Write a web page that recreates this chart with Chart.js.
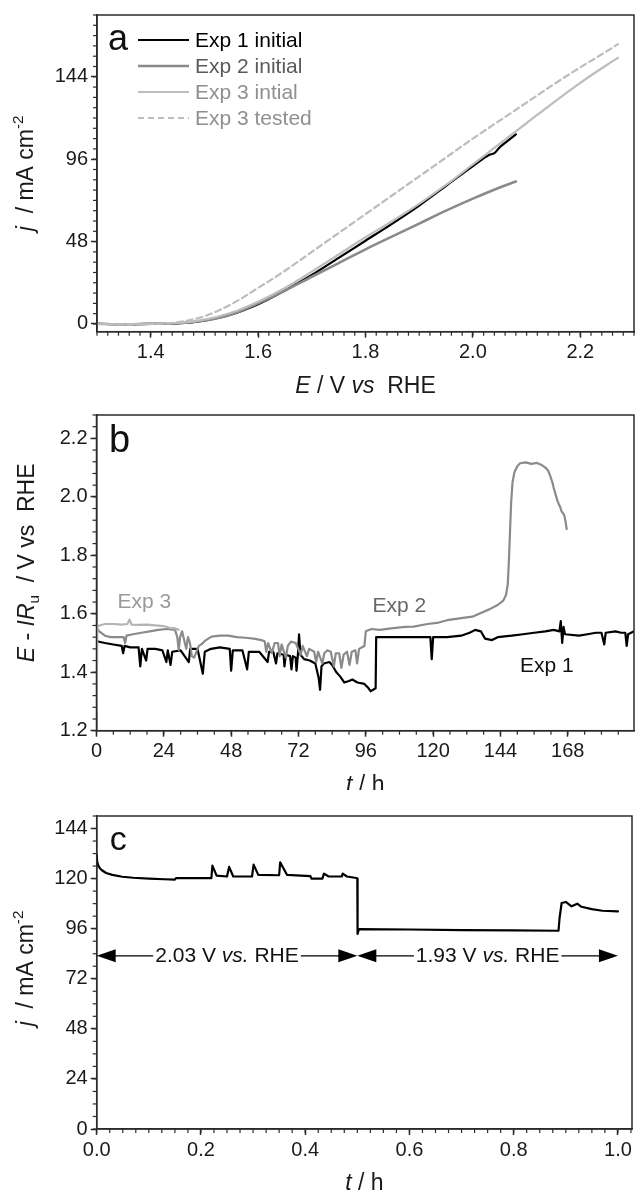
<!DOCTYPE html>
<html>
<head>
<meta charset="utf-8">
<script src="https://cdn.jsdelivr.net/npm/chart.js@4.4.1/dist/chart.umd.min.js"></script>
<style>
  html, body { margin: 0; padding: 0; background: #fff; }
  #wrap { position: relative; width: 635px; height: 1193px; overflow: hidden; background: #fff; }
  .panel { position: absolute; left: 0; width: 635px; }
  canvas { display: block; }
</style>
</head>
<body>
<div id="wrap">
  <div class="panel" style="top:0"><canvas id="chartA" width="635" height="395"></canvas></div>
  <div class="panel" style="top:395px"><canvas id="chartB" width="635" height="395"></canvas></div>
  <div class="panel" style="top:790px"><canvas id="chartC" width="635" height="403"></canvas></div>
</div>
<script>
// ---------- (a) polarisation curves: E / V vs RHE, j / mA cm-2 ----------
const exp1InitialE = [1.30, 1.35, 1.40, 1.45, 1.50, 1.55, 1.60, 1.65, 1.70, 1.75, 1.80, 1.85, 1.90, 1.95, 2.00, 2.03, 2.04, 2.05, 2.06, 2.08];
const exp1InitialJ = [0.2, -0.3, 0.1, 0.4, 2.0, 5.5, 11.5, 19.5, 28.5, 38.5, 48.5, 58.5, 69, 80.5, 92, 98.5, 99.5, 103, 105.5, 110.5];
const exp2InitialE = [1.30, 1.35, 1.40, 1.45, 1.50, 1.55, 1.60, 1.65, 1.70, 1.75, 1.80, 1.85, 1.90, 1.95, 2.00, 2.05, 2.08];
const exp2InitialJ = [0.1, -0.2, 0.2, 0.4, 2.0, 5.5, 12, 19.5, 27.5, 35.5, 43.5, 51, 58.5, 66, 73, 79.5, 83];
const exp3InitialE = [1.30, 1.35, 1.40, 1.45, 1.50, 1.55, 1.60, 1.65, 1.70, 1.75, 1.80, 1.85, 1.90, 1.95, 2.00, 2.05, 2.10, 2.15, 2.20, 2.25, 2.27];
const exp3InitialJ = [0.3, -0.2, 0.2, 0.6, 2.5, 6.5, 13, 21, 30.5, 40.5, 50.5, 60, 70, 81, 93, 105, 117, 129, 140.5, 151, 155];
const exp3TestedE  = [1.30, 1.35, 1.40, 1.45, 1.50, 1.55, 1.60, 1.65, 1.70, 1.75, 1.80, 1.85, 1.90, 1.95, 2.00, 2.05, 2.10, 2.15, 2.20, 2.25, 2.27];
const exp3TestedJ  = [0.0, -0.4, 0.0, 1.0, 4.5, 11.5, 21, 31, 42, 53, 64, 75, 86, 97, 108, 118.5, 129, 139.5, 149.5, 159, 163];
const lsvLabels = ['Exp 1 initial', 'Exp 2 initial', 'Exp 3 intial', 'Exp 3 tested'];
const lsvTicksE = [1.4, 1.6, 1.8, 2.0, 2.2];
const lsvTicksJ = [0, 48, 96, 144];

// ---------- (b) stability runs: t / h, E - IRu / V vs RHE ----------
const exp1T = [0, 0.5, 3, 6, 9, 9.5, 10, 12, 15, 15.6, 16.2, 17.7, 18.2, 21, 23.5, 24.9, 25.4, 26.4, 27, 30, 32.9, 33.4, 36, 37.9, 38.6, 40.8, 44, 47.5, 48, 48.6, 52, 53.7, 54.3, 58, 61, 61.5, 63, 64, 64.5, 66.7, 67, 67.5, 69, 69.5, 70, 71, 71.3, 71.8, 72.2, 72.7, 74, 76, 78, 79.2, 79.7, 80.2, 81, 83, 84, 85.5, 86.9, 88.3, 90, 91.2, 93, 95.5, 97, 97.7, 99.5, 99.7, 105, 110, 115, 119, 119.5, 120, 125, 130, 133, 135, 137, 138.5, 141, 143, 148, 152, 156, 160, 163, 165, 165.5, 166, 166.5, 167, 172, 175, 178, 180, 181, 181.5, 185, 187, 188.5, 189, 189.5, 191.6];
const exp1V = [1.51, 1.505, 1.50, 1.495, 1.49, 1.465, 1.49, 1.485, 1.485, 1.42, 1.48, 1.44, 1.48, 1.48, 1.475, 1.435, 1.475, 1.425, 1.47, 1.475, 1.435, 1.48, 1.48, 1.395, 1.47, 1.48, 1.485, 1.48, 1.405, 1.475, 1.475, 1.41, 1.47, 1.47, 1.435, 1.47, 1.47, 1.43, 1.465, 1.46, 1.42, 1.46, 1.455, 1.41, 1.455, 1.45, 1.405, 1.46, 1.53, 1.46, 1.445, 1.44, 1.43, 1.38, 1.34, 1.42, 1.43, 1.435, 1.425, 1.40, 1.385, 1.365, 1.37, 1.375, 1.365, 1.36, 1.345, 1.335, 1.345, 1.52, 1.52, 1.52, 1.52, 1.52, 1.445, 1.52, 1.52, 1.525, 1.535, 1.545, 1.54, 1.515, 1.51, 1.52, 1.525, 1.53, 1.535, 1.54, 1.545, 1.54, 1.575, 1.50, 1.555, 1.53, 1.525, 1.53, 1.535, 1.535, 1.495, 1.535, 1.54, 1.535, 1.535, 1.49, 1.53, 1.54];
const exp2T = [0, 1, 3, 5, 8, 9.7, 10.2, 10.7, 13, 16, 19, 22, 25, 28, 28.8, 29.3, 29.8, 30.5, 31.5, 32, 32.6, 33.3, 34, 34.8, 35.6, 36.5, 37.6, 39, 41, 44, 47, 50, 53, 56, 58.8, 60, 60.5, 61.2, 62.5, 63.5, 64.7, 65.3, 66, 67.5, 68.2, 69.3, 71, 72.8, 73.5, 75, 75.8, 77.6, 78.3, 79, 80.5, 81.2, 82.3, 83.5, 84.6, 85.3, 86.5, 87.3, 88.1, 89.3, 90.2, 91, 92.3, 92.9, 93.6, 95.5, 96, 98, 101, 105, 110, 113, 118, 122, 125, 130, 134, 137, 140, 143, 145, 146, 146.6, 147, 147.4, 147.8, 148.3, 149, 150, 151, 153, 155, 157, 158.5, 160, 161, 161.8, 162.5, 163, 163.6, 164.2, 164.8, 165.3, 165.8, 166.3, 166.8, 167.2, 167.6];
const exp2V = [1.55, 1.54, 1.525, 1.52, 1.52, 1.52, 1.50, 1.525, 1.53, 1.535, 1.54, 1.545, 1.548, 1.545, 1.52, 1.476, 1.52, 1.54, 1.50, 1.48, 1.52, 1.50, 1.455, 1.45, 1.47, 1.49, 1.497, 1.51, 1.522, 1.525, 1.525, 1.52, 1.518, 1.515, 1.51, 1.505, 1.47, 1.50, 1.465, 1.50, 1.50, 1.455, 1.495, 1.45, 1.49, 1.505, 1.50, 1.46, 1.49, 1.455, 1.48, 1.47, 1.435, 1.47, 1.43, 1.465, 1.475, 1.47, 1.42, 1.465, 1.465, 1.415, 1.46, 1.47, 1.425, 1.47, 1.475, 1.43, 1.48, 1.49, 1.54, 1.548, 1.545, 1.55, 1.555, 1.556, 1.565, 1.57, 1.578, 1.585, 1.59, 1.603, 1.615, 1.63, 1.645, 1.665, 1.70, 1.78, 1.88, 1.98, 2.05, 2.085, 2.105, 2.115, 2.118, 2.113, 2.116, 2.11, 2.10, 2.09, 2.07, 2.05, 2.03, 2.01, 1.99, 1.975, 1.965, 1.95, 1.945, 1.935, 1.915, 1.89];
const exp3T = [0, 0.3, 1, 3, 6, 9, 11, 11.8, 12.5, 15, 18, 21, 24, 26, 28, 29.3];
const exp3V = [1.27, 1.555, 1.56, 1.565, 1.565, 1.563, 1.565, 1.58, 1.563, 1.562, 1.563, 1.56, 1.558, 1.552, 1.55, 1.545];
const runTicksT = [0, 24, 48, 72, 96, 120, 144, 168];
const runTicksV = [1.2, 1.4, 1.6, 1.8, 2.0, 2.2];

// ---------- (c) chronoamperometry: t / h, j / mA cm-2 ----------
const chronoT = [0, 0.001, 0.003, 0.006, 0.01, 0.018, 0.03, 0.049, 0.07, 0.1, 0.13, 0.15, 0.152, 0.22, 0.222, 0.23, 0.25, 0.254, 0.262, 0.298, 0.301, 0.31, 0.35, 0.352, 0.365, 0.41, 0.412, 0.433, 0.436, 0.445, 0.47, 0.472, 0.48, 0.498, 0.5, 0.5005, 0.503, 0.6, 0.7, 0.8, 0.886, 0.888, 0.892, 0.9, 0.911, 0.922, 0.93, 0.95, 0.97, 1.0];
const chronoJ = [131.5, 128, 126.3, 125, 124, 122.7, 121.8, 120.9, 120.4, 120, 119.7, 119.5, 120.2, 120.2, 126.2, 121.4, 121, 125.6, 121, 121, 126.7, 121.8, 121.6, 127.8, 121.8, 121.2, 120, 120, 122.4, 121, 121, 122.4, 121, 120.3, 120, 93.5, 95.8, 95.6, 95.3, 95.2, 95, 101, 108.3, 108.8, 106.7, 108, 106.5, 105.4, 104.6, 104.3];
const holdStart = [0, 0.5];
const holdEnd = [0.5, 1.0];
const holdVoltage = ['2.03', '1.93'];
const chronoTicksT = [0, 0.2, 0.4, 0.6, 0.8, 1.0];
const chronoTicksJ = [0, 24, 48, 72, 96, 120, 144];

// ---------- shared drawing helpers ----------
const FONT = '"Liberation Sans", Arial, Helvetica, sans-serif';
const AXIS = '#2b2b2b';

function pts(xs, ys) { return xs.map((x, i) => ({ x: x, y: ys[i] })); }

// draws a run of text pieces (italic / sub / superscript) centred at x,y
function drawRich(ctx, parts, x, y, size, color, rotate, align) {
  ctx.save();
  ctx.translate(x, y);
  if (rotate) ctx.rotate(-Math.PI / 2);
  let total = 0;
  const m = parts.map(p => {
    const s = (p.sub || p.sup) ? size * 0.66 : size;
    const f = (p.italic ? 'italic ' : '') + s + 'px ' + FONT;
    ctx.font = f;
    const w = ctx.measureText(p.t).width;
    total += w;
    return { f, w, dy: p.sup ? -size * 0.36 : (p.sub ? size * 0.3 : 0) };
  });
  let cx = align === 'left' ? 0 : -total / 2;
  ctx.textBaseline = 'middle';
  ctx.textAlign = 'left';
  ctx.fillStyle = color;
  parts.forEach((p, i) => { ctx.font = m[i].f; ctx.fillText(p.t, cx, m[i].dy); cx += m[i].w; });
  ctx.restore();
  return total;
}

// frame, minor ticks, axis titles and panel letter
const decor = {
  id: 'decor',
  afterDraw(chart, args, o) {
    const ctx = chart.ctx, a = chart.chartArea;
    ctx.save();
    ctx.strokeStyle = AXIS;
    ctx.lineWidth = 1.5;
    ctx.strokeRect(a.left, a.top, a.right - a.left, a.bottom - a.top);
    ctx.lineWidth = 1.2;
    for (const id of ['x', 'y']) {
      const s = chart.scales[id], step = o.minor[id];
      const i0 = Math.ceil(s.min / step - 1e-6), i1 = Math.floor(s.max / step + 1e-6);
      for (let i = i0; i <= i1; i++) {
        const p = s.getPixelForValue(i * step);
        ctx.beginPath();
        if (id === 'x') { ctx.moveTo(p, a.bottom); ctx.lineTo(p, a.bottom + 4); }
        else { ctx.moveTo(a.left, p); ctx.lineTo(a.left - 4, p); }
        ctx.stroke();
      }
    }
    ctx.restore();
    drawRich(ctx, o.xTitle, (a.left + a.right) / 2, a.bottom + 55, 23, '#1a1a1a', false);
    drawRich(ctx, o.yTitle, o.yTitleX, (a.top + a.bottom) / 2 + o.yTitleDy, 23, '#1a1a1a', true);
    ctx.save();
    ctx.font = o.letterSize + 'px ' + FONT;
    ctx.fillStyle = '#111';
    ctx.textBaseline = 'alphabetic';
    ctx.fillText(o.letter, a.left + o.letterPos[0], a.top + o.letterPos[1]);
    ctx.restore();
  }
};

function axisBase(min, max, ticks, fmt, size) {
  return {
    type: 'linear', min: min, max: max,
    afterBuildTicks: s => { s.ticks = ticks.map(v => ({ value: v })); },
    afterFit: s => { if (s.isHorizontal()) s.height = size; else s.width = size; },
    grid: { drawOnChartArea: false, drawTicks: true, tickLength: 6, tickWidth: 1.5, tickColor: AXIS },
    border: { display: true, color: AXIS, width: 1.5 },
    ticks: { autoSkip: false, maxRotation: 0, padding: 3, color: '#1a1a1a',
             font: { family: FONT, size: 20 }, callback: fmt }
  };
}

const baseOptions = (padTop, padRight) => ({
  responsive: false, animation: false, devicePixelRatio: 1,
  layout: { padding: { top: padTop, right: padRight, left: 0, bottom: 0 } },
  elements: { point: { radius: 0 }, line: { borderJoinStyle: 'round', borderCapStyle: 'round' } },
  plugins: { legend: { display: false }, tooltip: { enabled: false } }
});

// ---------- chart a ----------
const lsvColours = ['#000000', '#8a8a8a', '#bdbdbd', '#bdbdbd'];
const lsvTextColours = ['#000000', '#5a5a5a', '#8f8f8f', '#8f8f8f'];
const lsvLegend = {
  id: 'lsvLegend',
  afterDraw(chart) {
    const ctx = chart.ctx;
    // datasets are stacked black-on-top, so walk them back in legend order
    const sets = chart.data.datasets.slice().reverse();
    sets.forEach((d, i) => {
      const y = 40 + i * 26;
      ctx.save();
      ctx.strokeStyle = d.borderColor;
      ctx.lineWidth = d.borderWidth;
      ctx.setLineDash(d.borderDash || []);
      ctx.beginPath(); ctx.moveTo(138, y); ctx.lineTo(189, y); ctx.stroke();
      ctx.setLineDash([]);
      ctx.font = '21px ' + FONT;
      ctx.fillStyle = lsvTextColours[i];
      ctx.textBaseline = 'middle';
      ctx.fillText(d.label, 195, y + 1);
      ctx.restore();
    });
  }
};
const optA = baseOptions(14, 1);
optA.scales = {
  x: axisBase(1.3, 2.3, lsvTicksE, v => v.toFixed(1), 63.3),
  y: axisBase(-4.5, 180, lsvTicksJ, v => String(v), 97)
};
optA.plugins.decor = {
  minor: { x: 0.02, y: 6 },
  xTitle: [{ t: 'E', italic: true }, { t: ' / V ' }, { t: 'vs', italic: true }, { t: '  RHE' }],
  yTitle: [{ t: 'j', italic: true }, { t: '  / mA cm' }, { t: '-2', sup: true }],
  yTitleX: 27, yTitleDy: 0,
  letter: 'a', letterSize: 36, letterPos: [11, 35]
};
new Chart(document.getElementById('chartA'), {
  type: 'line',
  data: { datasets: [
    { label: lsvLabels[3], data: pts(exp3TestedE, exp3TestedJ), borderColor: lsvColours[3], borderWidth: 2.2, borderDash: [6, 4], cubicInterpolationMode: 'monotone' },
    { label: lsvLabels[2], data: pts(exp3InitialE, exp3InitialJ), borderColor: lsvColours[2], borderWidth: 2.2, cubicInterpolationMode: 'monotone' },
    { label: lsvLabels[1], data: pts(exp2InitialE, exp2InitialJ), borderColor: lsvColours[1], borderWidth: 2.6, cubicInterpolationMode: 'monotone' },
    { label: lsvLabels[0], data: pts(exp1InitialE, exp1InitialJ), borderColor: lsvColours[0], borderWidth: 2.2, cubicInterpolationMode: 'monotone' }
  ] },
  options: optA,
  plugins: [decor, lsvLegend]
});

// ---------- chart b ----------
const runLabels = [
  { text: 'Exp 3', t: 7.5, v: 1.641, colour: '#9a9a9a' },
  { text: 'Exp 2', t: 98.4, v: 1.627, colour: '#666666' },
  { text: 'Exp 1', t: 151, v: 1.422, colour: '#111111' }
];
const optB = baseOptions(20, 1);
optB.scales = {
  x: axisBase(0, 191.6, runTicksT, v => String(v), 59.3),
  y: axisBase(1.2, 2.28, runTicksV, v => v.toFixed(1), 96.5)
};
optB.plugins.decor = {
  minor: { x: 6, y: 0.04 },
  xTitle: [{ t: 't', italic: true }, { t: ' / h' }],
  yTitle: [{ t: 'E', italic: true }, { t: ' - ' }, { t: 'IR', italic: true }, { t: 'u', sub: true }, { t: '  / V vs  RHE' }],
  yTitleX: 28, yTitleDy: -10,
  letter: 'b', letterSize: 38, letterPos: [12.5, 37]
};
new Chart(document.getElementById('chartB'), {
  type: 'line',
  data: { datasets: [
    { label: 'Exp 3', data: pts(exp3T, exp3V), borderColor: '#b4b4b4', borderWidth: 2.2 },
    { label: 'Exp 2', data: pts(exp2T, exp2V), borderColor: '#8a8a8a', borderWidth: 2.2 },
    { label: 'Exp 1', data: pts(exp1T, exp1V), borderColor: '#000000', borderWidth: 2.2 }
  ] },
  options: optB,
  plugins: [decor, {
    id: 'runLabels',
    afterDraw(chart) {
      const ctx = chart.ctx, sx = chart.scales.x, sy = chart.scales.y;
      ctx.save();
      ctx.font = '21px ' + FONT;
      ctx.textBaseline = 'middle';
      runLabels.forEach(l => {
        ctx.fillStyle = l.colour;
        ctx.fillText(l.text, sx.getPixelForValue(l.t), sy.getPixelForValue(l.v));
      });
      ctx.restore();
    }
  }]
});

// ---------- chart c ----------
const optC = baseOptions(26, 3);
optC.scales = {
  x: axisBase(0, 1.027, chronoTicksT, v => v.toFixed(1), 64),
  y: axisBase(0, 150, chronoTicksJ, v => String(v), 96.7)
};
optC.plugins.decor = {
  minor: { x: 0.025, y: 6 },
  xTitle: [{ t: 't', italic: true }, { t: ' / h' }],
  yTitle: [{ t: 'j', italic: true }, { t: '  / mA cm' }, { t: '-2', sup: true }],
  yTitleX: 27, yTitleDy: -4,
  letter: 'c', letterSize: 34, letterPos: [13, 34]
};
const holdLevel = 83;
new Chart(document.getElementById('chartC'), {
  type: 'line',
  data: { datasets: [
    { label: 'j', data: pts(chronoT, chronoJ), borderColor: '#000000', borderWidth: 2.2 }
  ] },
  options: optC,
  plugins: [decor, {
    id: 'holdArrows',
    afterDraw(chart) {
      const ctx = chart.ctx, sx = chart.scales.x, sy = chart.scales.y;
      const y = sy.getPixelForValue(holdLevel);
      const head = (tipX, dir) => {
        ctx.beginPath();
        ctx.moveTo(tipX, y);
        ctx.lineTo(tipX - dir * 19, y - 6.5);
        ctx.lineTo(tipX - dir * 19, y + 6.5);
        ctx.closePath();
        ctx.fill();
      };
      ctx.save();
      ctx.fillStyle = '#000';
      ctx.strokeStyle = '#000';
      ctx.lineWidth = 1.2;
      holdStart.forEach((t0, i) => {
        const x0 = sx.getPixelForValue(t0), x1 = sx.getPixelForValue(holdEnd[i]);
        const mid = (x0 + x1) / 2;
        const w = drawRich(ctx, [{ t: holdVoltage[i] + ' V ' }, { t: 'vs.', italic: true }, { t: ' RHE' }], mid, y, 21, '#111', false);
        ctx.beginPath();
        ctx.moveTo(x0 + 10, y); ctx.lineTo(mid - w / 2 - 2, y);
        ctx.moveTo(mid + w / 2 + 2, y); ctx.lineTo(x1 - 10, y);
        ctx.stroke();
        head(x0, -1);
        head(x1, 1);
      });
      ctx.restore();
    }
  }]
});
</script>
</body>
</html>
